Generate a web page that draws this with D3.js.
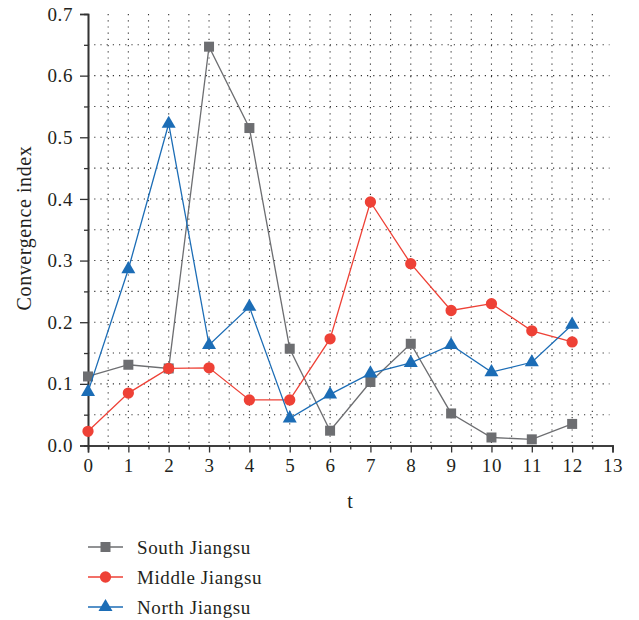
<!DOCTYPE html>
<html>
<head>
<meta charset="utf-8">
<script src="https://cdn.jsdelivr.net/npm/d3@7/dist/d3.min.js"></script>
<style>
  body { margin: 0; background: #fff; }
  svg text { font-family: "Liberation Serif", "DejaVu Serif", "Noto Serif", "Times New Roman", Times, serif !important; fill: #231f20; }
</style>
</head>
<body>
<script>
const [width, height] = [639, 620];

const tValues = [0, 1, 2, 3, 4, 5, 6, 7, 8, 9, 10, 11, 12];
const southJiangsu = [0.112, 0.131, 0.125, 0.647, 0.515, 0.157, 0.024, 0.103, 0.165, 0.052, 0.013, 0.010, 0.035];
const middleJiangsu = [0.023, 0.085, 0.125, 0.126, 0.074, 0.074, 0.173, 0.395, 0.295, 0.219, 0.230, 0.186, 0.168];
const northJiangsu = [0.087, 0.286, 0.522, 0.163, 0.225, 0.044, 0.083, 0.117, 0.134, 0.163, 0.119, 0.135, 0.196];
const seriesNames = ['South Jiangsu', 'Middle Jiangsu', 'North Jiangsu'];
const xTicks = d3.range(0, 14);
const yTicks = [0, 0.1, 0.2, 0.3, 0.4, 0.5, 0.6, 0.7];

const series = [
  {name: seriesNames[0], values: southJiangsu, color: '#6d6e71', symbol: d3.symbolSquare, size: 100},
  {name: seriesNames[1], values: middleJiangsu, color: '#ee4136', symbol: d3.symbolCircle, size: 100},
  {name: seriesNames[2], values: northJiangsu, color: '#1c6db6', symbol: d3.symbolTriangle, size: 85}
];

const svg = d3.select('body')
  .append('svg')
  .attr('width', width)
  .attr('height', height);

const xScale = d3.scaleLinear().domain([0, 13]).range([88, 612.5]);
const yScale = d3.scaleLinear().domain([0, 0.7]).range([445.5, 14]);

// dotted grid
const grid = svg.append('g').attr('class', 'grid')
  .attr('stroke', '#333')
  .attr('stroke-width', 1.1)
  .attr('stroke-dasharray', '1.2,5');
grid.selectAll('line.v')
  .data(d3.range(1, 26).map(d => d / 2))
  .enter()
  .append('line')
  .attr('class', 'v')
  .attr('x1', d => xScale(d))
  .attr('x2', d => xScale(d))
  .attr('y1', yScale(0.7))
  .attr('y2', yScale(0));
grid.selectAll('line.h')
  .data(d3.range(1, 14).map(d => d / 20))
  .enter()
  .append('line')
  .attr('class', 'h')
  .attr('x1', xScale(0))
  .attr('x2', xScale(13) - 3)
  .attr('y1', d => yScale(d))
  .attr('y2', d => yScale(d));

// axes
const axisX = d3.axisBottom(xScale).tickValues(xTicks).tickSize(7).tickPadding(6).tickFormat(d3.format('d'));
const axisXMinor = d3.axisBottom(xScale).tickValues(d3.range(0, 13).map(d => d + 0.5)).tickSize(4).tickFormat('');
const axisY = d3.axisLeft(yScale).tickValues(yTicks).tickSize(8).tickPadding(7).tickFormat(d3.format('.1f'));
const axisYMinor = d3.axisLeft(yScale).tickValues(d3.range(0, 7).map(d => d / 10 + 0.05)).tickSize(4).tickFormat('');

function styleAxis(g) {
  g.attr('font-family', null);
  g.select('.domain').attr('stroke', '#333').attr('stroke-width', 1.6);
  g.selectAll('.tick line').attr('stroke', '#333').attr('stroke-width', 1.3);
  g.selectAll('.tick text')
    .style('font-size', '19px')
    .style('letter-spacing', '0.6px')
    .attr('fill', '#231f20');
}

svg.append('g').attr('transform', `translate(0,${yScale(0)})`).call(axisXMinor).call(styleAxis);
svg.append('g').attr('transform', `translate(0,${yScale(0)})`).call(axisX).call(styleAxis);
svg.append('g').attr('transform', `translate(${xScale(0)},0)`).call(axisYMinor).call(styleAxis);
svg.append('g').attr('transform', `translate(${xScale(0)},0)`).call(axisY).call(styleAxis);

// axis titles
svg.append('text')
  .attr('transform', `translate(31,228) rotate(-90)`)
  .attr('text-anchor', 'middle')
  .style('font-size', '20px')
  .style('letter-spacing', '0.6px')
  .text('Convergence index');
svg.append('text')
  .attr('x', 350)
  .attr('y', 508)
  .attr('text-anchor', 'middle')
  .style('font-size', '20px')
  .text('t');

// lines and markers
const line = d3.line()
  .x((d, i) => xScale(tValues[i]))
  .y(d => yScale(d));

const sg = svg.append('g').attr('class', 'series')
  .selectAll('g')
  .data(series)
  .enter()
  .append('g');
sg.append('path')
  .attr('d', d => line(d.values))
  .attr('fill', 'none')
  .attr('stroke', d => d.color)
  .attr('stroke-width', 1.3);
sg.each(function(s) {
  d3.select(this).selectAll('path.marker')
    .data(s.values)
    .enter()
    .append('path')
    .attr('class', 'marker')
    .attr('d', d3.symbol().type(s.symbol).size(s.size))
    .attr('transform', (d, i) => `translate(${xScale(tValues[i])},${yScale(d)})`)
    .attr('fill', s.color);
});

// legend
const legend = svg.append('g').attr('class', 'legend')
  .selectAll('g')
  .data(series)
  .enter()
  .append('g')
  .attr('transform', (d, i) => `translate(0,${547 + 30 * i})`);
legend.append('line')
  .attr('x1', 88).attr('x2', 123)
  .attr('stroke', d => d.color)
  .attr('stroke-width', 1.3);
legend.append('path')
  .attr('d', d => d3.symbol().type(d.symbol).size(d.size)())
  .attr('transform', 'translate(105.5,0)')
  .attr('fill', d => d.color);
legend.append('text')
  .attr('x', 137)
  .attr('y', 6.5)
  .style('font-size', '19px')
  .style('letter-spacing', '0.6px')
  .text(d => d.name);
</script>
</body>
</html>
